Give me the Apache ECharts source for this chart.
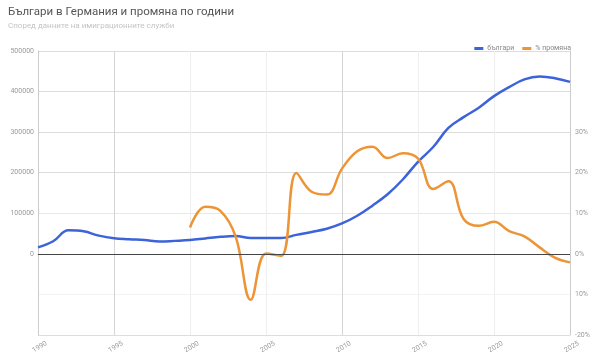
<!DOCTYPE html>
<html>
<head>
<meta charset="utf-8">
<script src="https://cdn.jsdelivr.net/npm/echarts@6/dist/echarts.min.js"></script>
<style>html,body{margin:0;padding:0;background:#fff}#c{width:600px;height:363px}</style>
</head>
<body>
<div id="c"></div>
<script>
const years = [1990,1991,1992,1993,1994,1995,1996,1997,1998,1999,2000,2001,2002,2003,2004,2005,2006,2007,2008,2009,2010,2011,2012,2013,2014,2015,2016,2017,2018,2019,2020,2021,2022,2023,2024,2025];
const bulgarians = [16000,31000,58000,55500,45000,38500,36000,34000,30500,32000,34000,38000,42000,44000,39000,39000,39000,46800,54000,61900,74900,93900,118800,146800,183300,226900,263300,310400,337000,360200,388700,411000,430000,437000,433000,424000];
const changePct = [null,null,null,null,null,null,null,null,null,null,6.5,11.6,10.6,4.3,-11.3,0.1,-0.5,19.9,15.3,14.6,21,25.3,26.4,23.6,24.8,23.5,16,17.9,8.6,6.9,7.9,5.6,4.3,1.6,-0.9,-2.1];
const xTicks = [1990,1995,2000,2005,2010,2015,2020,2025];
const title = 'Българи в Германия и промяна по години';
const subtitle = 'Според данните на имиграционните служби';
const seriesNames = ['българи','% промяна'];

const chart = echarts.init(document.getElementById('c'), null, {renderer:'canvas'});
chart.setOption({
  animation:false,
  backgroundColor:'#fff',
  title:{
    text:title, subtext:subtitle, left:3, top:1, itemGap:4,
    textStyle:{fontFamily:'Roboto', fontSize:11.5, fontWeight:'normal', color:'#555'},
    subtextStyle:{fontFamily:'Roboto', fontSize:8, color:'#c4c4c4'}
  },
  legend:{
    data:seriesNames, right:24, top:40, icon:'rect', itemWidth:9, itemHeight:3, itemGap:8,
    textStyle:{fontFamily:'Roboto', fontSize:7, color:'#888', padding:[0,0,0,-1]}
  },
  grid:{left:38, right:30, top:51, bottom:28, containLabel:false},
  xAxis:{
    type:'value', min:1990, max:2025, interval:5,
    axisLine:{show:true, lineStyle:{color:'#ccc'}},
    axisTick:{show:false},
    axisLabel:{rotate:30, fontFamily:'Roboto', fontSize:7, color:'#999', margin:9, align:'center', verticalAlign:'top',
      formatter:v=>xTicks.includes(v)?String(v):''},
    splitLine:{show:true, lineStyle:{color:['#ddd','#d4d4d4','#eee','#eee','#d4d4d4','#eee','#eee','#ddd'], width:1}}
  },
  yAxis:[
    {
      type:'value', min:-200000, max:500000, interval:100000,
      axisLine:{show:true, lineStyle:{color:'#ccc'}},
      axisTick:{show:false},
      axisLabel:{fontFamily:'Roboto', fontSize:7, color:'#999', margin:4, formatter:v=>v<0?'':String(v)},
      splitLine:{show:true, lineStyle:{color:['#ddd','#f2f2f2','#ddd','#e8e8e8','#ddd','#ddd','#ddd','#ddd']}}
    },
    {
      type:'value', min:-20, max:50, interval:10,
      axisLine:{show:true, lineStyle:{color:'#ccc'}},
      axisTick:{show:false},
      axisLabel:{fontFamily:'Roboto', fontSize:7, color:'#999', margin:5,
        formatter:v=>v>30?'':(v===-10?'10%':v+'%')},
      splitLine:{show:false}
    }
  ],
  series:[
    {
      name:seriesNames[0], type:'line', yAxisIndex:0, smooth:0.4, showSymbol:false,
      data:years.map((y,i)=>[y,bulgarians[i]]),
      lineStyle:{color:'#3d63d9', width:2.5}, itemStyle:{color:'#3d63d9'},
      markLine:{silent:true, symbol:'none', label:{show:false}, data:[{yAxis:0}],
        lineStyle:{color:'#444', width:1, type:'solid'}}
    },
    {
      name:seriesNames[1], type:'line', yAxisIndex:1, smooth:0.4, showSymbol:false, connectNulls:false,
      data:years.map((y,i)=>[y,changePct[i]]),
      lineStyle:{color:'#ec9436', width:2.5}, itemStyle:{color:'#ec9436'}
    }
  ]
});
</script>
</body>
</html>
